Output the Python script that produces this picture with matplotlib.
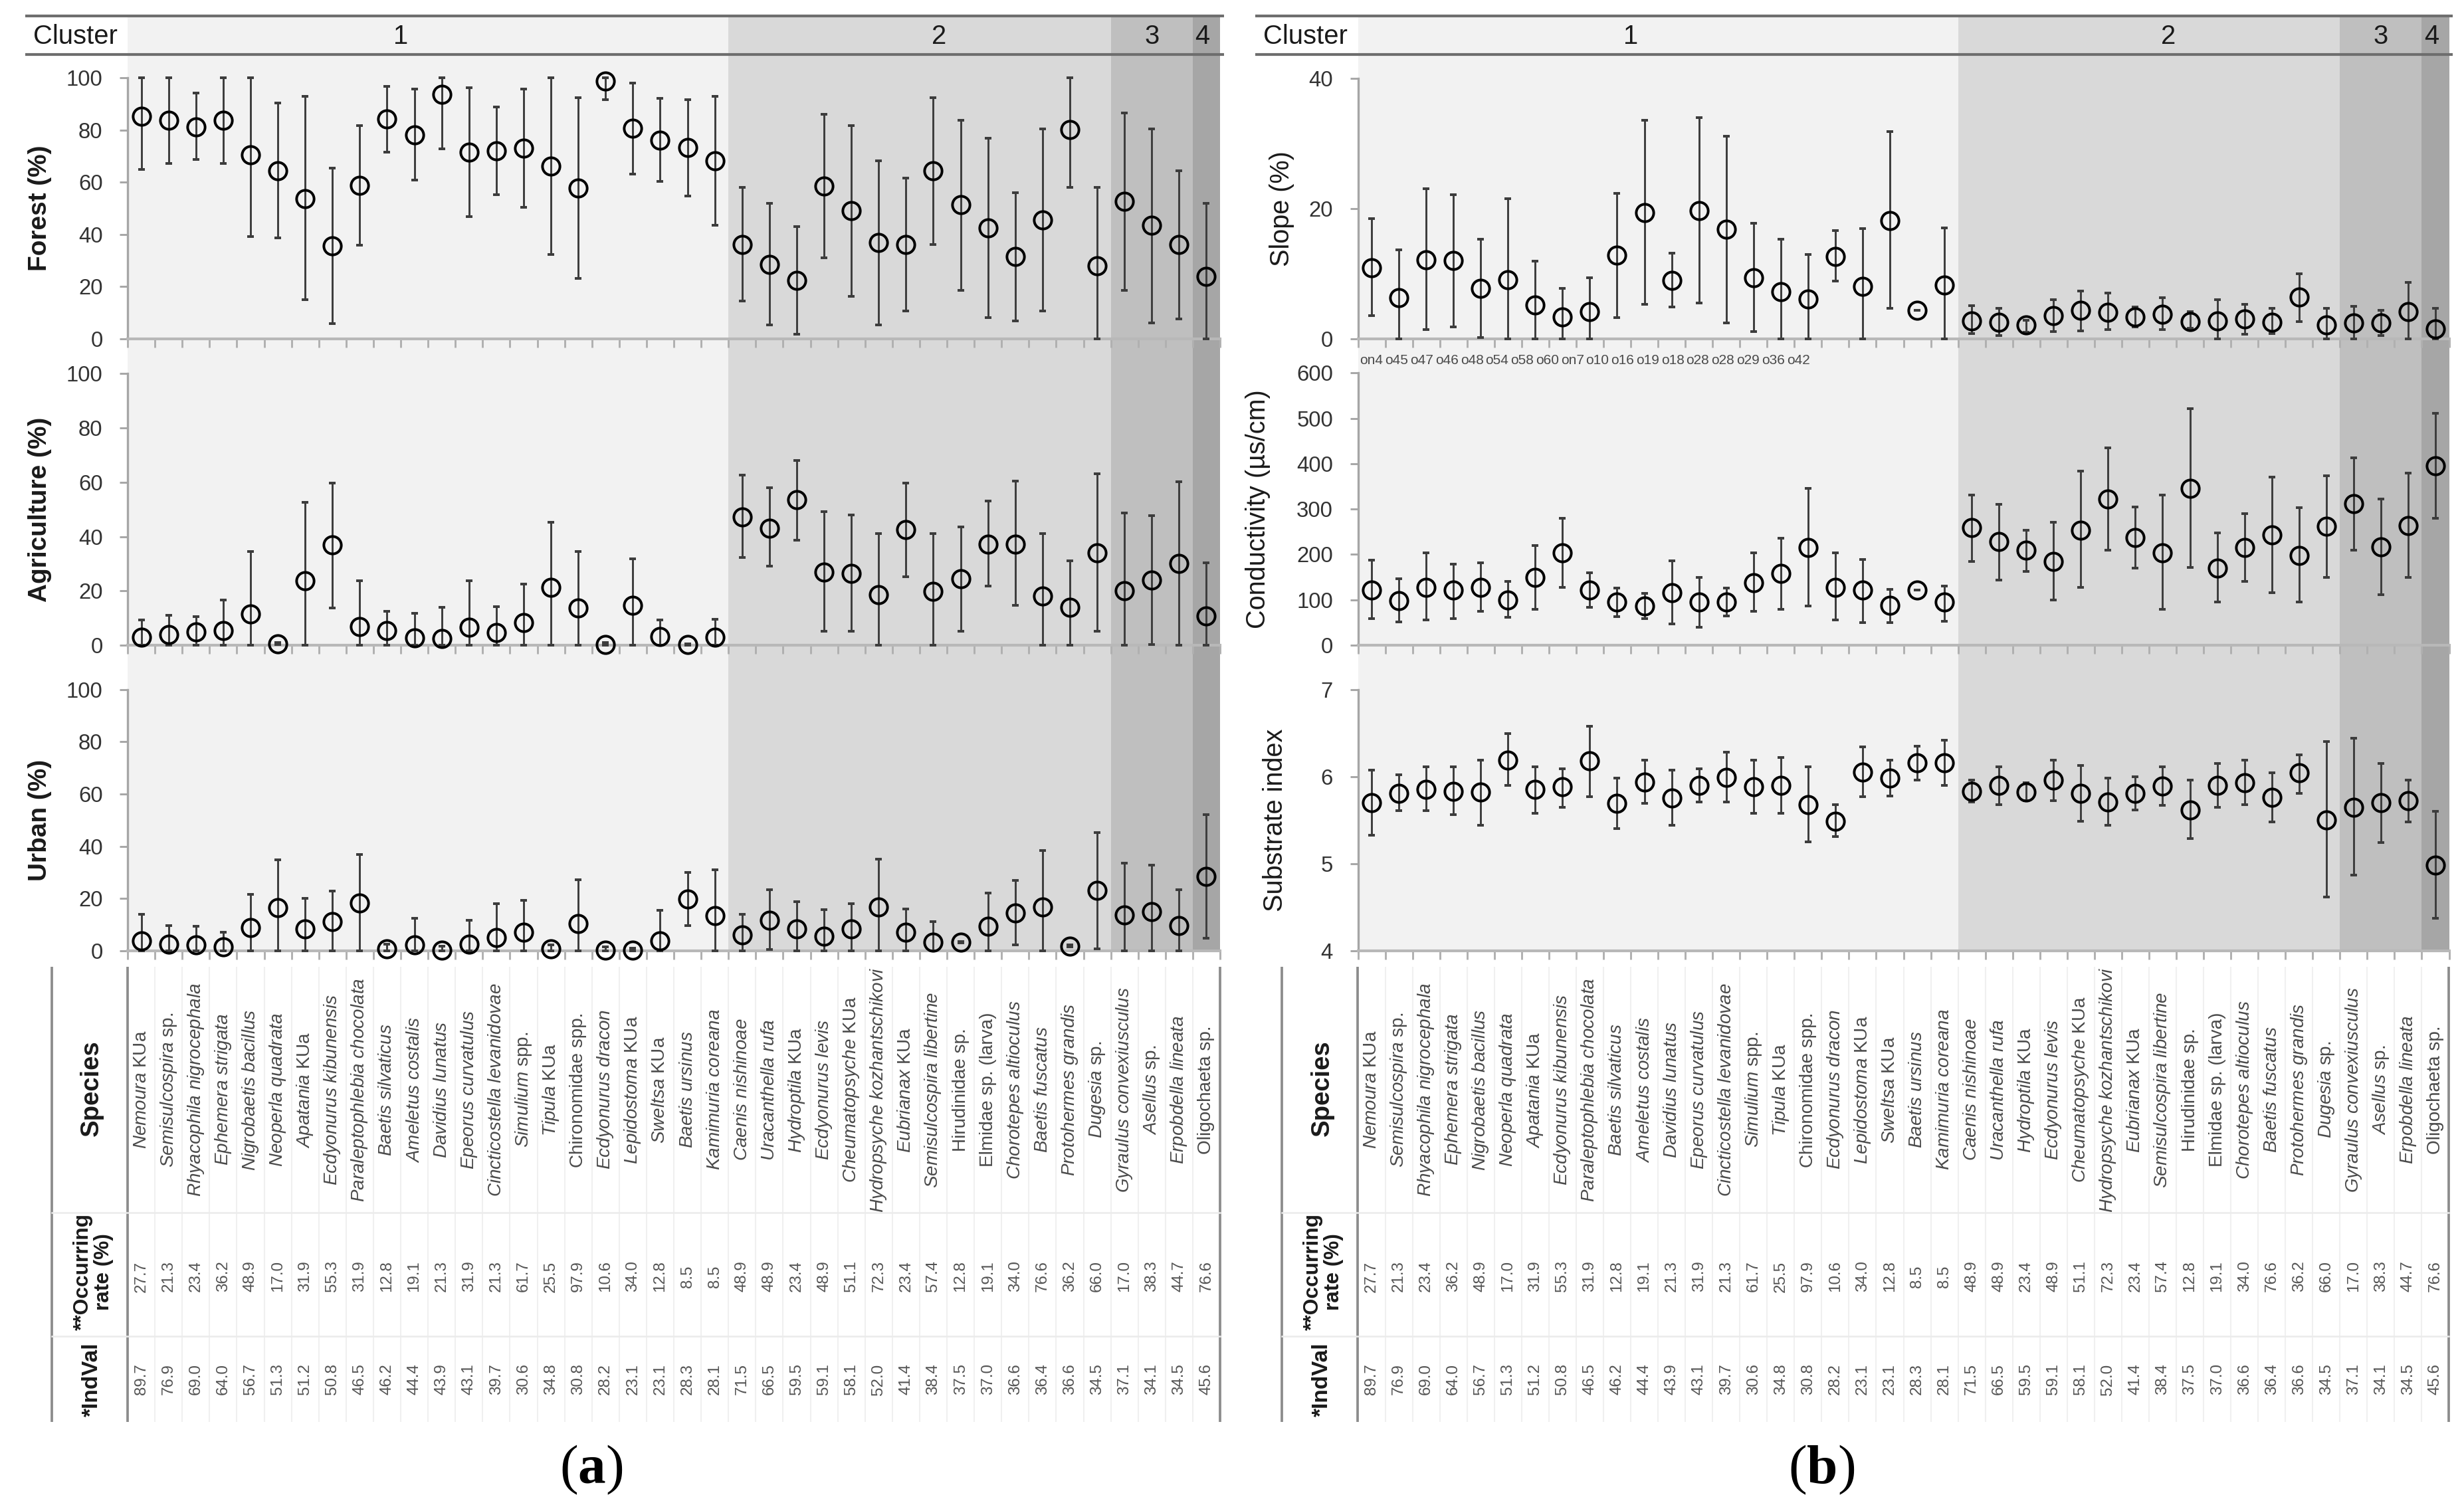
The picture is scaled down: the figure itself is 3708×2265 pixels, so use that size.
import numpy as np
import matplotlib
matplotlib.use("Agg")
import matplotlib.pyplot as plt

plt.rcParams['font.family'] = ['Liberation Sans', 'DejaVu Sans']
plt.rcParams['mathtext.fontset'] = 'custom'
plt.rcParams['mathtext.it'] = 'Liberation Sans:italic'
plt.rcParams['mathtext.rm'] = 'Liberation Sans'
plt.rcParams['mathtext.bf'] = 'Liberation Serif:bold'

# ---------------- data ----------------
species = [
    r"$\mathit{Nemoura}$ KUa", r"$\mathit{Semisulcospira}$ sp.", r"$\mathit{Rhyacophila\ nigrocephala}$",
    r"$\mathit{Ephemera\ strigata}$", r"$\mathit{Nigrobaetis\ bacillus}$", r"$\mathit{Neoperla\ quadrata}$",
    r"$\mathit{Apatania}$ KUa", r"$\mathit{Ecdyonurus\ kibunensis}$", r"$\mathit{Paraleptophlebia\ chocolata}$",
    r"$\mathit{Baetis\ silvaticus}$", r"$\mathit{Ameletus\ costalis}$", r"$\mathit{Davidius\ lunatus}$",
    r"$\mathit{Epeorus\ curvatulus}$", r"$\mathit{Cincticostella\ levanidovae}$", r"$\mathit{Simulium}$ spp.",
    r"$\mathit{Tipula}$ KUa", "Chironomidae spp.", r"$\mathit{Ecdyonurus\ dracon}$",
    r"$\mathit{Lepidostoma}$ KUa", r"$\mathit{Sweltsa}$ KUa", r"$\mathit{Baetis\ ursinus}$",
    r"$\mathit{Kamimuria\ coreana}$", r"$\mathit{Caenis\ nishinoae}$", r"$\mathit{Uracanthella\ rufa}$",
    r"$\mathit{Hydroptila}$ KUa", r"$\mathit{Ecdyonurus\ levis}$", r"$\mathit{Cheumatopsyche}$ KUa",
    r"$\mathit{Hydropsyche\ kozhantschikovi}$", r"$\mathit{Eubrianax}$ KUa", r"$\mathit{Semisulcospira\ libertine}$",
    "Hirudinidae sp.", "Elmidae sp. (larva)", r"$\mathit{Chorotepes\ altioculus}$",
    r"$\mathit{Baetis\ fuscatus}$", r"$\mathit{Protohermes\ grandis}$", r"$\mathit{Dugesia}$ sp.",
    r"$\mathit{Gyraulus\ convexiusculus}$", r"$\mathit{Asellus}$ sp.", r"$\mathit{Erpobdella\ lineata}$",
    "Oligochaeta sp.",
]
cluster_sizes = [22, 14, 3, 1]
cluster_names = ["1", "2", "3", "4"]
cluster_label_pos = [9.5, 29.2, 37.0, 38.85]

occurring_rate = [27.7, 21.3, 23.4, 36.2, 48.9, 17.0, 31.9, 55.3, 31.9, 12.8, 19.1, 21.3, 31.9, 21.3,
                  61.7, 25.5, 97.9, 10.6, 34.0, 12.8, 8.5, 8.5, 48.9, 48.9, 23.4, 48.9, 51.1, 72.3,
                  23.4, 57.4, 12.8, 19.1, 34.0, 76.6, 36.2, 66.0, 17.0, 38.3, 44.7, 76.6]
indval = [89.7, 76.9, 69.0, 64.0, 56.7, 51.3, 51.2, 50.8, 46.5, 46.2, 44.4, 43.9, 43.1, 39.7, 30.6,
          34.8, 30.8, 28.2, 23.1, 23.1, 28.3, 28.1, 71.5, 66.5, 59.5, 59.1, 58.1, 52.0, 41.4, 38.4,
          37.5, 37.0, 36.6, 36.4, 36.6, 34.5, 37.1, 34.1, 34.5, 45.6]

forest_mean = [85.3, 83.6, 81.1, 83.6, 70.5, 64.3, 53.7, 35.7, 58.7, 84.2, 78.1, 93.6, 71.5, 71.9, 73.0,
               66.2, 57.7, 98.6, 80.6, 76.0, 73.2, 68.1, 36.2, 28.6, 22.5, 58.4, 49.0, 36.9, 36.1, 64.3,
               51.4, 42.4, 31.6, 45.6, 80.2, 28.0, 52.6, 43.5, 36.1, 23.8]
forest_hi = [100, 100, 94.2, 100, 100, 90.2, 92.8, 65.5, 81.8, 96.6, 95.7, 100, 96.3, 88.7, 95.7, 100,
             92.3, 100, 98.0, 92.1, 91.5, 92.8, 57.9, 51.8, 43.0, 85.9, 81.7, 68.1, 61.7, 92.3, 83.8,
             76.8, 56.0, 80.5, 100, 58.1, 86.6, 80.5, 64.3, 52.0]
forest_lo = [64.9, 67.1, 68.6, 67.1, 39.2, 38.6, 14.9, 5.9, 35.9, 71.5, 60.7, 72.8, 46.9, 55.2, 50.5,
             32.3, 23.2, 91.5, 63.1, 60.3, 54.8, 43.5, 14.4, 5.3, 1.9, 31.0, 16.4, 5.3, 10.8, 36.2,
             18.7, 8.2, 6.8, 10.8, 58.0, 0, 18.5, 6.1, 7.6, 0]

agri_mean = [2.9, 3.9, 4.9, 5.5, 11.5, 0.6, 23.7, 36.9, 6.9, 5.5, 2.7, 2.4, 6.7, 4.6, 8.3, 21.4, 13.8,
             0.3, 14.6, 3.2, 0.3, 3.0, 47.3, 43.0, 53.7, 26.8, 26.4, 18.7, 42.6, 19.7, 24.4, 37.3,
             37.3, 18.1, 13.9, 34.0, 20.1, 24.0, 30.1, 10.8]
agri_hi = [9.2, 11.0, 10.6, 16.6, 34.4, 1.0, 52.7, 59.8, 23.7, 12.5, 11.8, 13.9, 23.7, 14.3, 22.5, 45.2,
           34.4, 1.0, 31.9, 9.2, 0.6, 9.6, 62.6, 58.0, 68.0, 49.1, 47.9, 41.2, 59.8, 41.2, 43.6, 53.1,
           60.5, 41.2, 31.0, 63.1, 48.6, 47.6, 60.3, 30.4]
agri_lo = [0, 0, 0, 0, 0, 0.2, 0, 13.8, 0, 0, 0, 0, 0, 0, 0, 0, 0, 0, 0, 0, 0, 0, 32.3, 29.1, 38.6,
           5.2, 5.2, 0, 25.1, 0, 5.2, 21.8, 14.6, 0, 0, 5.2, 0, 0.3, 0, 0]

urban_mean = [3.7, 2.5, 2.2, 1.5, 9.0, 16.4, 8.5, 11.2, 18.2, 0.7, 2.2, 0.3, 2.5, 5.2, 7.2, 0.7, 10.4,
              0.3, 0.3, 3.7, 19.7, 13.4, 6.0, 11.6, 8.5, 5.7, 8.5, 16.7, 7.0, 3.4, 3.3, 9.4, 14.6,
              16.7, 1.9, 23.1, 13.7, 14.9, 9.7, 28.4]
urban_hi = [13.9, 9.7, 9.3, 7.0, 21.6, 34.8, 20.1, 22.8, 36.9, 2.5, 12.4, 1.9, 11.8, 18.1, 19.4, 2.2,
            27.2, 1.5, 1.0, 15.4, 30.1, 30.9, 13.9, 23.4, 18.7, 15.7, 18.1, 35.1, 16.0, 11.2, 3.6,
            22.2, 27.0, 38.4, 2.2, 45.2, 33.6, 32.8, 23.4, 52.2]
urban_lo = [0, 0, 0, 0, 0, 0, 0, 0, 0, 0, 0, 0, 0, 0, 0, 0, 0, 0, 0, 0, 9.7, 0, 0, 0.4, 0, 0, 0, 0,
            0, 0, 3.0, 0, 2.2, 0, 1.6, 0.7, 0, 0, 0, 4.8]

slope_mean = [10.9, 6.3, 12.2, 12.0, 7.8, 9.1, 5.2, 3.4, 4.2, 12.9, 19.4, 9.0, 19.7, 16.8, 9.4, 7.2,
              6.1, 12.7, 8.1, 18.2, 4.4, 8.3, 2.8, 2.6, 2.1, 3.6, 4.4, 4.1, 3.4, 3.8, 2.7, 2.8, 3.1,
              2.6, 6.4, 2.1, 2.5, 2.4, 4.2, 1.5]
slope_hi = [18.5, 13.7, 23.1, 22.2, 15.3, 21.5, 11.9, 7.8, 9.4, 22.4, 33.6, 13.2, 34.0, 31.1, 17.8,
            15.3, 13.0, 16.6, 16.9, 31.9, 4.4, 17.1, 5.1, 4.7, 2.9, 6.0, 7.4, 7.0, 4.9, 6.3, 4.2,
            6.0, 5.3, 4.7, 10.0, 4.7, 5.0, 4.4, 8.7, 4.7]
slope_lo = [3.6, 0, 1.4, 1.8, 0.2, 0, 0, 0, 0, 3.3, 5.3, 4.9, 5.5, 2.5, 1.1, 0, 0, 8.9, 0, 4.7, 4.4,
            0, 0.8, 0.5, 1.0, 1.1, 1.2, 1.4, 1.8, 1.4, 1.6, 0, 0.7, 0.8, 2.7, 0, 0, 0.5, 0, 0]

cond_mean = [121, 98, 128, 121, 128, 100, 149, 203, 121, 95, 86, 116, 95, 95, 137, 158, 215, 128, 121,
             88, 121, 95, 259, 228, 209, 184, 254, 322, 237, 203, 346, 170, 215, 243, 198, 262, 312,
             217, 264, 396]
cond_hi = [187, 147, 203, 179, 182, 140, 219, 279, 159, 126, 114, 186, 150, 126, 203, 236, 345, 203,
           189, 123, 121, 131, 331, 310, 254, 271, 383, 435, 304, 331, 521, 247, 290, 371, 303, 374,
           413, 322, 379, 511]
cond_lo = [58, 51, 55, 58, 75, 61, 79, 128, 84, 63, 58, 47, 39, 64, 74, 79, 86, 56, 50, 50, 121, 53,
           184, 144, 163, 100, 128, 210, 170, 79, 172, 95, 140, 116, 95, 150, 210, 111, 149, 280]

sub_mean = [5.70, 5.81, 5.85, 5.83, 5.82, 6.19, 5.85, 5.88, 6.18, 5.69, 5.94, 5.75, 5.90, 5.99, 5.88,
            5.90, 5.68, 5.49, 6.05, 5.98, 6.16, 6.16, 5.83, 5.90, 5.82, 5.96, 5.81, 5.71, 5.81, 5.89,
            5.62, 5.90, 5.93, 5.76, 6.04, 5.50, 5.65, 5.70, 5.72, 4.98]
sub_hi = [6.07, 6.02, 6.11, 6.11, 6.19, 6.49, 6.11, 6.09, 6.58, 5.98, 6.19, 6.07, 6.09, 6.28, 6.19,
          6.22, 6.11, 5.68, 6.34, 6.19, 6.35, 6.42, 5.96, 6.11, 5.93, 6.19, 6.13, 5.98, 6.00, 6.11,
          5.96, 6.15, 6.19, 6.04, 6.25, 6.40, 6.44, 6.15, 5.96, 5.60]
sub_lo = [5.33, 5.61, 5.61, 5.56, 5.44, 5.90, 5.58, 5.65, 5.77, 5.40, 5.69, 5.44, 5.71, 5.71, 5.58,
          5.58, 5.25, 5.31, 5.77, 5.78, 5.96, 5.90, 5.71, 5.68, 5.72, 5.72, 5.49, 5.44, 5.62, 5.67,
          5.29, 5.65, 5.68, 5.48, 5.81, 4.62, 4.87, 5.24, 5.48, 4.37]

# site codes printed (partly hidden) under the slope panel in the source figure
slope_site_labels = ['on4', 'o45', 'o47', 'o46', 'o48', 'o54', 'o58', 'o60', 'on7', 'o10',
                     'o16', 'o19', 'o18', 'o28', 'o28', 'o29', 'o36', 'o42']

# ---------------- layout ----------------
W, H = 3708, 2265
fig = plt.figure(figsize=(W / 300, H / 300), dpi=300)


def px_axes(x0, y0, x1, y1, **kw):
    return fig.add_axes([x0 / W, 1 - y1 / H, (x1 - x0) / W, (y1 - y0) / H], **kw)


cluster_colors = ['#f2f2f2', '#d9d9d9', '#bfbfbf', '#a6a6a6']
n = len(species)
xpos = np.arange(n)

HEAD_T, HEAD_B = 24, 82
ROWS = [(82, 510), (510, 971), (971, 1431)]
TAB_T, TAB_B = 1455, 2140
ROW1, ROW2 = 1825, 2011

panel_a = dict(
    x0=192, x1=1836, label='a', labelfw='bold', labelfs=9.3,
    vars=[
        ("Forest (%)", forest_mean, forest_lo, forest_hi, (0, 108.9), [0, 20, 40, 60, 80, 100], -132),
        ("Agriculture (%)", agri_mean, agri_lo, agri_hi, (0, 112.8), [0, 20, 40, 60, 80, 100], -132),
        ("Urban (%)", urban_mean, urban_lo, urban_hi, (0, 116.9), [0, 20, 40, 60, 80, 100], -132),
    ])
panel_b = dict(
    x0=2043.5, x1=3685.5, label='b', labelfw='normal', labelfs=9.5,
    vars=[
        ("Slope (%)", slope_mean, slope_lo, slope_hi, (0, 43.7), [0, 20, 40], -114),
        ("Conductivity (\u00b5s/cm)", cond_mean, cond_lo, cond_hi, (0, 675), [0, 100, 200, 300, 400, 500, 600], -150),
        ("Substrate index", sub_mean, sub_lo, sub_hi, (4, 7.507), [4, 5, 6, 7], -124),
    ])

overlay_items = []

for p_i, P in enumerate([panel_a, panel_b]):
    x0, x1 = P['x0'], P['x1']
    # background (cluster shading incl. header row)
    bg = px_axes(x0, HEAD_T, x1, ROWS[-1][1])
    bg.set_xlim(-0.5, n - 0.5)
    bg.set_ylim(ROWS[-1][1], HEAD_T)
    bg.axis('off')
    start = -0.5
    for size, col in zip(cluster_sizes, cluster_colors):
        bg.axvspan(start, start + size, color=col, lw=0, zorder=0)
        start += size
    for name, pos in zip(cluster_names, cluster_label_pos):
        bg.text(pos, (HEAD_T + HEAD_B) / 2 + 2, name, ha='center', va='center', fontsize=9.6, color='#1a1a1a')

    for r_i, (lab, mean, lo, hi, ylim, ticks, lab_off) in enumerate(P['vars']):
        yt, yb = ROWS[r_i]
        ax = px_axes(x0, yt, x1, yb, facecolor='none')
        ax.set_zorder(10 - r_i)
        ax.set_xlim(-0.5, n - 0.5)
        ax.set_ylim(*ylim)
        m = np.array(mean, float)
        l = np.array(lo, float)
        h = np.array(hi, float)
        ax.errorbar(xpos, m, yerr=[m - l, h - m], fmt='o', mfc='none', mec='black', ms=6.3, mew=0.95,
                    ecolor='#3c3c3c', elinewidth=0.7, capsize=1.3, capthick=0.8, clip_on=False, zorder=3)
        for s in ['top', 'right']:
            ax.spines[s].set_visible(False)
        ax.spines['left'].set_color('#a6a6a6')
        ax.spines['left'].set_linewidth(0.8)
        ax.spines['left'].set_bounds(ticks[0], ticks[-1])
        ax.spines['bottom'].set_color('#b8b8b8')
        ax.spines['bottom'].set_linewidth(1.0)
        ax.set_yticks(ticks)
        ax.set_yticklabels([str(t) for t in ticks])
        ax.set_xticks(np.arange(-0.5, n, 1.0))
        ax.tick_params(axis='x', length=3, width=0.7, color='#b0b0b0', labelbottom=False, direction='out')
        ax.tick_params(axis='y', length=3, width=0.7, color='#a6a6a6', pad=6, labelsize=7.9,
                       labelcolor='#333333', direction='out')
        xf = lab_off / (x1 - x0)
        ax.text(xf, (ticks[0] + ticks[-1]) / 2, lab, transform=ax.get_yaxis_transform(), rotation=90,
                ha='center', va='center', fontsize=P['labelfs'], fontweight=P['labelfw'], color='#1a1a1a')
        if p_i == 1 and r_i == 0:
            for i, s in enumerate(slope_site_labels):
                ax.text(i * 0.92, -0.075, s, transform=ax.get_xaxis_transform(), ha='center', va='center',
                        fontsize=5.0, color='#4a4a4a', clip_on=False)

    # table
    tab = px_axes(x0, TAB_T, x1, TAB_B)
    tab.set_xlim(-0.5, n - 0.5)
    tab.set_ylim(TAB_B, TAB_T)
    tab.axis('off')
    for i in range(n):
        tab.text(i, 1640, species[i], rotation=90, ha='center', va='center', fontsize=6.7, color='#4a4a4a')
        tab.text(i, 1921, f"{occurring_rate[i]:.1f}", rotation=90, ha='center', va='center', fontsize=5.8,
                 color='#555555')
        tab.text(i, 2076, f"{indval[i]:.1f}", rotation=90, ha='center', va='center', fontsize=5.8,
                 color='#555555')
    for b in np.arange(0.5, n - 1, 1.0):
        tab.plot([b, b], [TAB_T, TAB_B], color='#f0f0f0', lw=0.5, zorder=0)
    overlay_items.append((x0, x1, P['label']))

# overlay for lines and row labels (pixel coordinates)
ov = px_axes(0, 0, W, H, facecolor='none')
ov.set_zorder(20)
ov.set_xlim(0, W)
ov.set_ylim(H, 0)
ov.axis('off')
for x0, x1, lab in overlay_items:
    for yy in (HEAD_T, HEAD_B):
        ov.plot([x0 - 154, x1 + 6], [yy, yy], color='#6e6e6e', lw=1.0, solid_capstyle='butt')
    ov.text(x0 - 142, (HEAD_T + HEAD_B) / 2 + 2, "Cluster", ha='left', va='center', fontsize=9.6, color='#1a1a1a')
    for xx in (x0 - 114, x0, x1):
        ov.plot([xx, xx], [TAB_T, TAB_B], color='#8c8c8c', lw=0.9, solid_capstyle='butt')
    for yy in (ROW1, ROW2):
        ov.plot([x0 - 114, x1], [yy, yy], color='#ebebeb', lw=0.6)
    ov.text(x0 - 54, 1638, "Species", rotation=90, ha='center', va='center', fontsize=9.2,
            fontweight='bold', color='#1a1a1a')
    ov.text(x0 - 52, 1914, "**Occurring\nrate (%)", rotation=90, ha='center', va='center', fontsize=7.6,
            fontweight='bold', color='#1a1a1a', linespacing=1.05)
    ov.text(x0 - 54, 2076, "*IndVal", rotation=90, ha='center', va='center', fontsize=8.0,
            fontweight='bold', color='#1a1a1a')
    ov.text(x0 + 698, 2212, r"($\mathbf{" + lab + "}$)", ha='center', va='center', fontsize=20,
            family='Liberation Serif', color='black')

fig.savefig("out.png", dpi=300, facecolor='white')
